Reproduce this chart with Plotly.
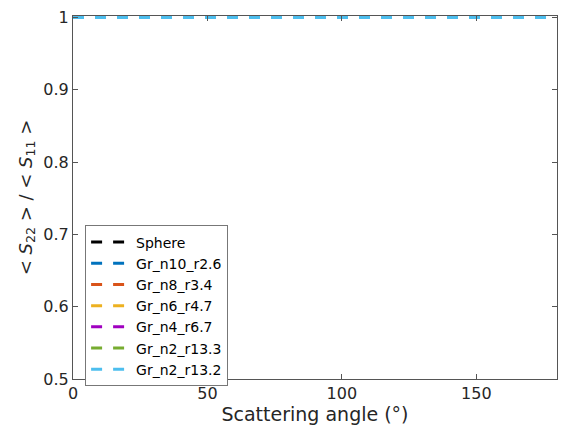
import plotly.graph_objects as go

angles = [0, 30, 60, 90, 120, 150, 180]
sphere = [1, 1, 1, 1, 1, 1, 1]
gr_n10_r2_6 = [1, 1, 1, 1, 1, 1, 1]
gr_n8_r3_4 = [1, 1, 1, 1, 1, 1, 1]
gr_n6_r4_7 = [1, 1, 1, 1, 1, 1, 1]
gr_n4_r6_7 = [1, 1, 1, 1, 1, 1, 1]
gr_n2_r13_3 = [1, 1, 1, 1, 1, 1, 1]
gr_n2_r13_2 = [1, 1, 1, 1, 1, 1, 1]

names = ["Sphere", "Gr_n10_r2.6", "Gr_n8_r3.4", "Gr_n6_r4.7", "Gr_n4_r6.7", "Gr_n2_r13.3", "Gr_n2_r13.2"]
series = [sphere, gr_n10_r2_6, gr_n8_r3_4, gr_n6_r4_7, gr_n4_r6_7, gr_n2_r13_3, gr_n2_r13_2]
colors = ["#000000", "#0072BD", "#D95319", "#EDB120", "#A000C0", "#77AC30", "#4DBEEE"]

fig = go.Figure()
for n, s, c in zip(names, series, colors):
    fig.add_trace(go.Scatter(x=angles, y=s, name=n, mode="lines",
                             line=dict(color=c, width=3, dash="11px,11px")))

axcol = "#555555"
fig.update_layout(
    width=568, height=435,
    margin=dict(l=73, r=11, t=8, b=56),
    paper_bgcolor="white", plot_bgcolor="white",
    font=dict(family="DejaVu Sans", size=16, color="#262626"),
    showlegend=True,
    legend=dict(x=0.025, y=0.423, xanchor="left", yanchor="top",
                bgcolor="white", bordercolor="#777777", borderwidth=1,
                itemwidth=40,
                font=dict(size=14, color="#000000"), tracegroupgap=0),
    xaxis=dict(range=[0, 180], tickvals=[0, 50, 100, 150], ticks="inside", ticklen=5,
               tickcolor=axcol, showline=True, linecolor=axcol, linewidth=1, mirror="ticks",
               showgrid=False, zeroline=False,
               title=dict(text="Scattering angle (°)", font=dict(size=19), standoff=2)),
    yaxis=dict(range=[0.5, 1.002], tickvals=[0.5, 0.6, 0.7, 0.8, 0.9, 1],
               ticktext=["0.5", "0.6", "0.7", "0.8", "0.9", "1"],
               ticks="inside", ticklen=5,
               tickcolor=axcol, showline=True, linecolor=axcol, linewidth=1, mirror="ticks",
               showgrid=False, zeroline=False,
               title=dict(text="< <i>S</i><sub>22</sub> > / < <i>S</i><sub>11</sub> >",
                          font=dict(size=18), standoff=6)),
)

fig.write_html("out.html")
